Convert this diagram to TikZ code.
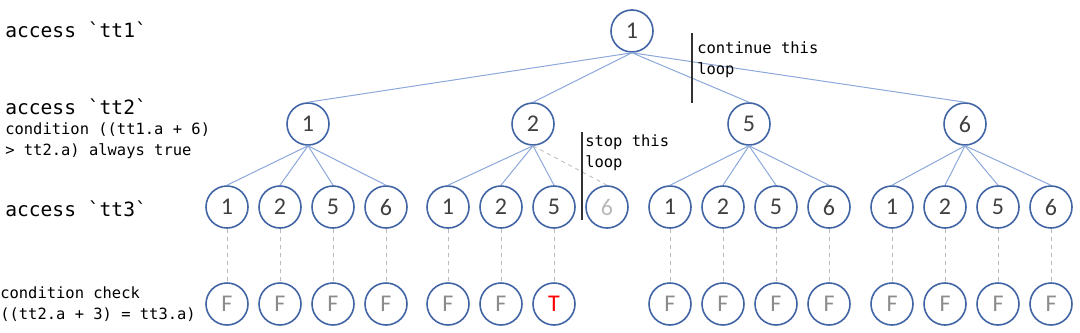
\documentclass[tikz,border=0pt]{standalone}
\usepackage{fontspec}
\setmonofont{DejaVu Sans Mono}
\newfontfamily\numfont{Carlito}
\definecolor{ringblue}{RGB}{65,100,165}
\definecolor{edgeblue}{RGB}{140,168,218}
\definecolor{linkgray}{RGB}{185,185,185}
\definecolor{numgray}{RGB}{64,64,64}
\definecolor{fgray}{RGB}{140,140,140}
\definecolor{bargray}{RGB}{50,50,50}
\tikzset{
	num/.style={circle, draw=ringblue, line width=1.2pt, minimum size=31.5pt, inner sep=0pt,
		text=numgray, font=\numfont\fontsize{18}{18}\selectfont},
	check/.style={num, text=fgray},
	edge/.style={draw=edgeblue, line width=0.75pt},
	link/.style={draw=linkgray, dashed, line width=0.6pt},
	bar/.style={draw=bargray, line width=1.2pt},
	biglabel/.style={anchor=west, inner sep=0pt, font=\ttfamily\fontsize{14.7}{16}\selectfont},
	smalllabel/.style={anchor=north west, inner sep=0pt, align=left,
		font=\ttfamily\fontsize{11.6}{16.2}\selectfont},
}
\begin{document}
\begin{tikzpicture}[x=0.75pt, y=-0.75pt]
	\useasboundingbox (0,0) rectangle (1080,332);
	%	left labels
	\node[biglabel] (lab1) at (5,30) {access `tt1`};
	\node[biglabel] (lab2) at (5,107) {access `tt2`};
	\node[smalllabel] (cond2) at (5,122) {condition ((tt1.a + 6)\\> tt2.a) always true};
	\node[biglabel] (lab3) at (5,209) {access `tt3`};
	\node[smalllabel] (cond3) at (0,286) {condition check\\((tt2.a + 3) = tt3.a)};
	%	tree
	\node[num] (root) at (632,31) {1};
	\node[num] (n1) at (308,124) {1};
	\node[num] (n2) at (533,124) {2};
	\node[num] (n5) at (749,124) {5};
	\node[num] (n6) at (965,124) {6};
	\foreach \p in {n1,n2,n5,n6}
		\draw[edge] (root.south) -- (\p.north);
	%	leaves
	\foreach \g/\p/\x in {a/n1/227, c/n5/670, d/n6/892}
		\foreach \v/\dx in {1/0, 2/53, 5/106, 6/159}{
			\node[num] (\g\v) at (\x+\dx,207) {\v};
			\node[check] (k\g\v) at (\x+\dx,304) {F};
			\draw[edge] (\p.south) -- (\g\v.north);
			\draw[link] (\g\v) -- (k\g\v);
		}
	\foreach \v/\dx in {1/0, 2/53, 5/106}{
		\node[num] (b\v) at (448+\dx,207) {\v};
		\draw[edge] (n2.south) -- (b\v.north);
	}
	\node[num, text=linkgray] (b6) at (607,207) {6};
	\draw[link] (n2.south) -- (b6.north);
	\node[check] (kb1) at (448,304) {F};
	\node[check] (kb2) at (501,304) {F};
	\node[check, text=red] (kb5) at (554,304) {T};
	\foreach \v in {1,2,5}
		\draw[link] (b\v) -- (kb\v);
	%	loop notes
	\draw[bar] (692,33) -- (692,103);
	\node[smalllabel] (cont) at (697,41) {continue this\\loop};
	\draw[bar] (582,132) -- (582,220);
	\node[smalllabel] (stop) at (585,134) {stop this\\loop};
\end{tikzpicture}
\end{document}
